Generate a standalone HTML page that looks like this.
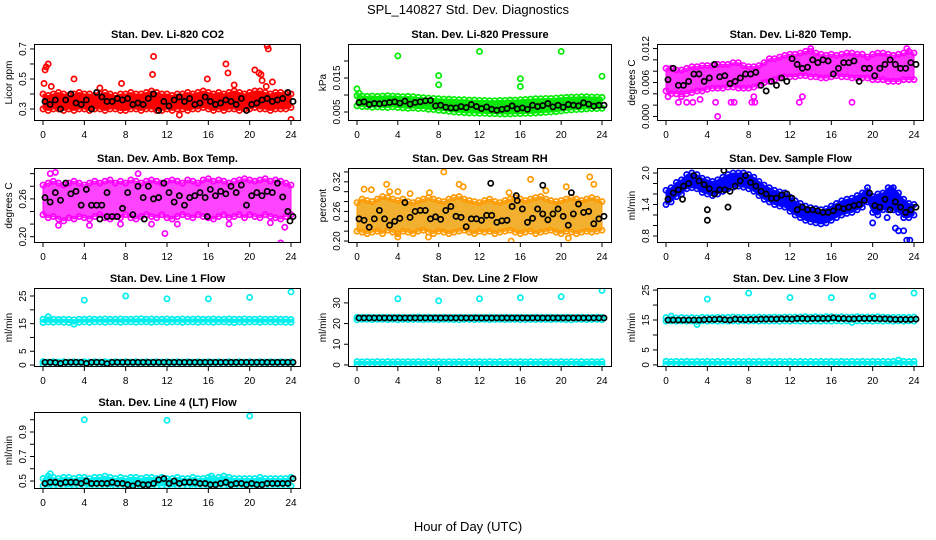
<!DOCTYPE html>
<html><head><meta charset="utf-8">
<style>
html,body{margin:0;padding:0;background:#fff;}
svg{display:block;font-family:"Liberation Sans",Arial,sans-serif;}
</style></head>
<body>
<svg id="chart" width="936" height="540" viewBox="0 0 936 540">
<rect width="936" height="540" fill="#fff"/>
<text x="468" y="14" text-anchor="middle" font-size="13">SPL_140827  Std. Dev. Diagnostics</text>
<text x="468" y="531" text-anchor="middle" font-size="13">Hour of Day (UTC)</text>
</svg>
<script>
// shared hour categories
const hours = [0,0.5,1,1.5,2,2.5,3,3.5,4,4.5,5,5.5,6,6.5,7,7.5,8,8.5,9,9.5,10,10.5,11,11.5,12,12.5,13,13.5,14,14.5,15,15.5,16,16.5,17,17.5,18,18.5,19,19.5,20,20.5,21,21.5,22,22.5,23,23.5,24];
const xTicks = [0,4,8,12,16,20,24];

// CO2
const co2Lo = [0.30,0.29,0.30,0.30,0.29,0.30,0.29,0.30,0.30,0.29,0.30,0.30,0.29,0.30,0.30,0.29,0.29,0.30,0.30,0.29,0.30,0.30,0.29,0.29,0.30,0.29,0.30,0.30,0.29,0.30,0.30,0.31,0.30,0.29,0.30,0.29,0.30,0.30,0.29,0.30,0.30,0.31,0.30,0.30,0.29,0.30,0.30,0.30,0.31];
const co2Hi = [0.40,0.39,0.40,0.41,0.40,0.39,0.40,0.41,0.40,0.40,0.39,0.40,0.41,0.40,0.39,0.40,0.40,0.41,0.40,0.40,0.41,0.42,0.41,0.40,0.40,0.39,0.40,0.40,0.41,0.40,0.41,0.42,0.41,0.40,0.41,0.40,0.41,0.42,0.41,0.40,0.41,0.42,0.42,0.41,0.40,0.41,0.41,0.40,0.40];
const co2Black = [0.35,0.33,0.36,0.30,0.36,0.40,0.34,0.33,0.36,0.30,0.41,0.38,0.35,0.35,0.37,0.36,0.37,0.33,0.34,0.33,0.37,0.40,0.29,0.35,0.32,0.36,0.38,0.35,0.37,0.33,0.34,0.38,0.35,0.33,0.34,0.36,0.35,0.33,0.37,0.29,0.33,0.34,0.36,0.37,0.35,0.36,0.37,0.41,0.35];
const co2Out = [[0.2,0.56],[0.3,0.58],[0.5,0.6],[0.1,0.47],[0.8,0.45],[3,0.5],[10.7,0.65],[10.6,0.53],[13.2,0.26],[17.7,0.6],[17.9,0.54],[15.9,0.5],[20.5,0.56],[21.7,0.72],[21.8,0.7],[21.1,0.53],[22.2,0.48],[21.6,0.45],[24,0.23],[7.6,0.47],[18.5,0.46],[5.5,0.44],[21.2,0.49],[20.9,0.54]];
const co2Ticks = [0.3,0.4,0.5,0.6,0.7];
const co2Labels = ["0.3","","0.5","","0.7"];

// Pressure
const prLo = [0.0068,0.0066,0.0066,0.0064,0.0065,0.0064,0.0063,0.0065,0.0063,0.0062,0.0061,0.0062,0.0060,0.0060,0.0058,0.0057,0.0055,0.0054,0.0052,0.0050,0.0049,0.0048,0.0047,0.0047,0.0046,0.0046,0.0045,0.0045,0.0044,0.0044,0.0044,0.0045,0.0045,0.0046,0.0046,0.0047,0.0048,0.0049,0.0050,0.0051,0.0053,0.0055,0.0056,0.0057,0.0058,0.0059,0.0060,0.0060,0.0061];
const prHi = [0.0098,0.0097,0.0096,0.0097,0.0096,0.0097,0.0098,0.0097,0.0096,0.0095,0.0096,0.0095,0.0093,0.0092,0.0091,0.0090,0.0089,0.0088,0.0088,0.0087,0.0086,0.0086,0.0085,0.0085,0.0084,0.0084,0.0083,0.0083,0.0084,0.0084,0.0085,0.0085,0.0086,0.0087,0.0088,0.0089,0.0089,0.0090,0.0090,0.0091,0.0092,0.0093,0.0094,0.0094,0.0095,0.0095,0.0094,0.0094,0.0093];
const prBlack = [0.0078,0.0080,0.0072,0.0075,0.0074,0.0076,0.0078,0.0080,0.0076,0.0082,0.0073,0.0078,0.0080,0.0083,0.0084,0.0068,0.0070,0.0064,0.0062,0.0062,0.0066,0.0063,0.0072,0.0066,0.0060,0.0065,0.0058,0.0055,0.0058,0.0060,0.0068,0.0059,0.0062,0.0058,0.0070,0.0066,0.0069,0.0075,0.0065,0.0070,0.0064,0.0072,0.0070,0.0068,0.0077,0.0073,0.0067,0.0070,0.0070];
const prOut = [[4,0.0215],[12,0.0228],[20,0.0228],[8,0.0157],[8,0.013],[16,0.0148],[16,0.0125],[24,0.0155],[0,0.0118],[0.2,0.0105]];
const prTicks = [0.005,0.010,0.015,0.020];
const prLabels = ["0.005","","0.015",""];

// Li-820 temperature
const tpLo = [0.0045,0.004,0.004,0.004,0.004,0.0042,0.0045,0.0045,0.0048,0.005,0.005,0.005,0.0052,0.0052,0.005,0.005,0.005,0.0052,0.0055,0.006,0.0062,0.0065,0.0068,0.007,0.007,0.007,0.0072,0.0072,0.007,0.007,0.0068,0.0068,0.007,0.0072,0.007,0.007,0.0068,0.0068,0.0068,0.0068,0.0065,0.0065,0.0065,0.0062,0.0062,0.0062,0.0065,0.0065,0.0065];
const tpHi = [0.0085,0.0085,0.0082,0.0082,0.0085,0.0088,0.0088,0.009,0.009,0.009,0.0092,0.0092,0.0092,0.0095,0.0095,0.009,0.0088,0.0088,0.009,0.0095,0.0102,0.0102,0.0105,0.0108,0.011,0.011,0.0112,0.0115,0.0115,0.0112,0.011,0.0108,0.011,0.0108,0.011,0.0112,0.0112,0.011,0.011,0.0105,0.011,0.0112,0.0112,0.011,0.0108,0.011,0.0112,0.0115,0.0112];
const tpBlack = [0.0065,0.0085,0.0055,0.0055,0.0062,0.0075,0.0075,0.0062,0.0068,0.0092,0.007,0.0072,0.0058,0.0062,0.0068,0.0075,0.0075,0.0078,0.0055,0.0045,0.0062,0.0055,0.0068,0.0062,0.0102,0.0092,0.0085,0.0087,0.01,0.0095,0.01,0.0098,0.0075,0.0085,0.0095,0.0095,0.0098,0.0062,0.0085,0.0085,0.0072,0.0085,0.0092,0.01,0.0092,0.0085,0.0085,0.0095,0.0092];
const tpOut = [[5,0.0],[1.2,0.0025],[2,0.0025],[2.6,0.0025],[4.8,0.0025],[6.3,0.0025],[6.6,0.0025],[8.3,0.0025],[8.6,0.0025],[12.9,0.0025],[18,0.0025],[13.2,0.0035],[0.2,0.0035],[1.5,0.0035],[3.3,0.003],[8.5,0.0035],[14,0.012],[23.3,0.012]];
const tpTicks = [0,0.002,0.004,0.006,0.008,0.010,0.012];
const tpLabels = ["0.000","","","0.006","","","0.012"];

// Amb box temperature
const abLo = [0.235,0.23,0.232,0.228,0.225,0.23,0.228,0.232,0.23,0.228,0.232,0.235,0.23,0.228,0.232,0.23,0.235,0.23,0.228,0.232,0.235,0.232,0.23,0.235,0.23,0.228,0.232,0.235,0.232,0.23,0.235,0.232,0.23,0.228,0.232,0.235,0.23,0.232,0.235,0.23,0.235,0.232,0.23,0.235,0.232,0.23,0.228,0.232,0.235];
const abHi = [0.282,0.285,0.288,0.285,0.282,0.285,0.288,0.285,0.282,0.285,0.288,0.285,0.288,0.29,0.285,0.288,0.285,0.29,0.288,0.285,0.288,0.29,0.288,0.285,0.288,0.29,0.288,0.285,0.29,0.288,0.285,0.29,0.292,0.288,0.29,0.288,0.285,0.288,0.29,0.292,0.29,0.288,0.29,0.292,0.288,0.29,0.288,0.285,0.282];
const abBlack = [0.262,0.255,0.27,0.258,0.285,0.268,0.272,0.25,0.275,0.25,0.25,0.25,0.27,0.232,0.232,0.245,0.27,0.235,0.28,0.262,0.28,0.26,0.262,0.285,0.27,0.255,0.265,0.25,0.262,0.265,0.27,0.262,0.275,0.265,0.272,0.268,0.28,0.27,0.282,0.25,0.265,0.27,0.265,0.272,0.27,0.285,0.263,0.24,0.232];
const abOut = [[0.7,0.3],[1.2,0.302],[11.8,0.205],[23,0.19],[23.4,0.215],[9.2,0.3],[1.5,0.218],[4.5,0.218],[7.5,0.22],[10.5,0.22],[13,0.22],[18,0.22],[22,0.222]];
const abBlackOut = [[15.9,0.232],[9.8,0.228],[23.9,0.225],[6.2,0.232],[5.5,0.228]];
const abTicks = [0.20,0.22,0.24,0.26,0.28,0.30];
const abLabels = ["0.20","","","0.26","",""];

// Gas stream RH
const rhLo = [0.22,0.218,0.215,0.218,0.22,0.215,0.222,0.218,0.215,0.22,0.218,0.215,0.22,0.222,0.218,0.215,0.22,0.218,0.215,0.218,0.22,0.222,0.218,0.215,0.22,0.218,0.22,0.215,0.218,0.22,0.222,0.218,0.215,0.218,0.22,0.215,0.218,0.22,0.222,0.218,0.215,0.22,0.218,0.215,0.218,0.22,0.218,0.22,0.222];
const rhHi = [0.278,0.285,0.282,0.28,0.285,0.29,0.288,0.285,0.282,0.285,0.28,0.278,0.282,0.285,0.288,0.285,0.282,0.28,0.285,0.288,0.29,0.285,0.282,0.28,0.278,0.282,0.285,0.28,0.278,0.282,0.285,0.288,0.285,0.282,0.285,0.288,0.29,0.285,0.282,0.28,0.282,0.285,0.288,0.285,0.282,0.285,0.288,0.285,0.28];
const rhBlack = [0.245,0.242,0.228,0.245,0.262,0.245,0.232,0.24,0.246,0.278,0.248,0.26,0.262,0.262,0.245,0.249,0.244,0.262,0.27,0.25,0.248,0.229,0.245,0.245,0.242,0.252,0.252,0.238,0.241,0.242,0.27,0.282,0.265,0.238,0.246,0.265,0.255,0.243,0.255,0.265,0.25,0.232,0.255,0.275,0.258,0.26,0.235,0.245,0.25];
const rhOut = [[8.5,0.34],[15.1,0.2],[22.8,0.33],[2.9,0.315],[0.7,0.305],[1.4,0.304],[10,0.315],[10.4,0.31],[17,0.325],[23.2,0.315],[3.2,0.3],[4,0.3],[5.2,0.296],[7.1,0.298],[14.9,0.298],[18.5,0.302],[20.5,0.31],[4,0.208],[7,0.208],[20.7,0.206]];
const rhBlackOut = [[13.1,0.317],[18.2,0.313],[21,0.298],[15.6,0.292]];
const rhTicks = [0.20,0.22,0.24,0.26,0.28,0.30,0.32,0.34];
const rhLabels = ["0.20","","","0.26","","","0.32",""];

// Sample flow
const sfLo = [1.4,1.45,1.55,1.6,1.7,1.72,1.7,1.63,1.6,1.57,1.6,1.65,1.7,1.73,1.75,1.73,1.7,1.65,1.57,1.5,1.45,1.4,1.37,1.35,1.27,1.2,1.15,1.1,1.07,1.05,1.03,1.05,1.1,1.15,1.2,1.23,1.25,1.3,1.35,1.45,1.25,1.2,1.3,1.3,1.3,1.25,1.15,1.15,1.2];
const sfHi = [1.67,1.72,1.82,1.87,1.97,2.0,1.97,1.9,1.87,1.84,1.87,1.92,1.97,2.0,2.0,2.0,1.97,1.92,1.84,1.77,1.72,1.67,1.64,1.62,1.54,1.47,1.42,1.37,1.34,1.32,1.3,1.32,1.37,1.42,1.47,1.5,1.52,1.57,1.62,1.72,1.55,1.6,1.62,1.72,1.72,1.62,1.5,1.42,1.4];
const sfBlack = [1.5,1.62,1.68,1.75,1.8,1.95,1.85,1.78,1.7,1.6,1.68,1.68,1.65,1.75,1.85,1.95,1.82,1.75,1.65,1.6,1.52,1.52,1.58,1.6,1.52,1.3,1.35,1.3,1.3,1.28,1.25,1.25,1.28,1.35,1.32,1.35,1.38,1.4,1.48,1.62,1.38,1.35,1.5,1.3,1.45,1.35,1.25,1.3,1.35];
const sfOut = [[20,1.05],[21.4,1.15],[22.2,0.95],[22.5,0.9],[23,0.9],[23.3,0.72],[23.6,0.72],[21.8,1.7],[22.1,1.6]];
const sfBlackOut = [[4,1.1],[4,1.3],[1.6,1.5],[6,1.35],[5.6,2.05]];
const sfTicks = [0.8,1.0,1.2,1.4,1.6,1.8,2.0];
const sfLabels = ["0.8","","","1.4","","","2.0"];

// Line 1 flow
const l1UpLo = [15.4,15.6,15.5,15.6,15.5,15.4,14.8,15.5,15.6,15.5,15.6,15.6,15.5,15.6,15.6,15.5,15.6,15.6,15.5,15.6,15.6,15.5,15.6,15.6,15.5,15.6,15.6,15.5,15.6,15.6,15.5,15.6,15.6,15.5,15.6,15.6,15.5,15.4,15.6,15.5,15.6,15.6,15.5,15.6,15.6,15.5,15.6,15.5,15.5];
const l1UpHi = [16.6,17.5,16.6,16.5,16.6,16.5,16.4,16.6,16.6,16.7,16.6,16.6,16.7,16.6,16.6,16.7,16.6,16.6,16.7,16.8,16.6,16.7,16.6,16.6,16.7,16.6,16.6,16.7,16.6,16.6,16.7,16.6,16.6,16.7,16.6,16.6,16.7,16.6,16.6,16.7,16.6,16.6,16.7,16.6,16.6,16.7,16.6,16.6,16.5];
const l1LowLo = [0.3,0.3,0.3,0.3,0.3,0.3,0.3,0.3,0.3,0.3,0.3,0.3,0.3,0.3,0.3,0.3,0.3,0.3,0.3,0.3,0.3,0.3,0.3,0.3,0.3,0.3,0.3,0.3,0.3,0.3,0.3,0.3,0.3,0.3,0.3,0.3,0.3,0.3,0.3,0.3,0.3,0.3,0.3,0.3,0.3,0.3,0.3,0.3,0.3];
const l1LowHi = [1.2,1.1,1.2,1.1,1.2,1.1,1.2,1.1,1.2,1.1,1.2,1.1,1.2,1.1,1.2,1.1,1.2,1.1,1.2,1.1,1.2,1.1,1.2,1.1,1.2,1.1,1.2,1.1,1.2,1.1,1.2,1.1,1.2,1.1,1.2,1.1,1.2,1.1,1.2,1.1,1.2,1.1,1.2,1.1,1.2,1.1,1.2,1.1,1.2];
const l1Black = [1.0,1.0,0.9,0.6,1.0,1.0,1.0,1.0,0.6,1.0,1.0,1.0,0.5,1.0,1.0,1.0,1.0,1.0,1.0,1.0,1.0,1.0,1.0,1.0,1.0,1.0,1.0,1.0,1.0,1.0,1.0,1.0,1.0,1.0,1.0,1.0,1.0,1.0,1.0,1.0,1.0,1.0,1.0,1.0,1.0,1.0,1.0,1.0,1.0];
const l1Out = [[4,23.5],[8,25],[12,24],[16,24],[20,24.5],[24,26.5]];
const l1Ticks = [0,5,10,15,20,25];
const l1Labels = ["0","5","","15","","25"];

// Line 2 flow
const l2UpLo = [21.8,22.0,22.0,21.9,22.0,22.0,21.9,22.0,21.8,22.0,21.9,22.0,22.0,21.9,22.0,22.0,21.9,22.0,22.0,21.9,21.8,22.0,22.0,21.9,22.0,22.0,21.9,22.0,22.0,21.9,22.0,22.0,21.9,22.0,22.0,21.9,22.0,22.0,21.9,22.0,22.0,21.9,21.8,22.0,22.0,21.9,22.0,22.0,21.9];
const l2UpHi = [23.0,23.0,23.1,23.0,23.0,23.1,23.0,23.0,23.1,23.0,23.0,23.1,23.2,23.0,23.1,23.0,23.0,23.1,23.0,23.0,23.1,23.0,23.0,23.1,23.0,23.0,23.1,23.0,23.0,23.1,23.0,23.0,23.1,23.0,23.0,23.1,23.0,23.0,23.1,23.0,23.0,23.1,23.0,23.0,23.1,23.0,23.0,23.1,23.0];
const l2LowLo = [0.3,0.3,0.3,0.3,0.3,0.3,0.3,0.3,0.3,0.3,0.3,0.3,0.3,0.3,0.3,0.3,0.3,0.3,0.3,0.3,0.3,0.3,0.3,0.3,0.3,0.3,0.3,0.3,0.3,0.3,0.3,0.3,0.3,0.3,0.3,0.3,0.3,0.3,0.3,0.3,0.3,0.3,0.3,0.3,-0.3,0.3,0.3,0.3,0.3];
const l2LowHi = [1.6,1.5,1.6,1.5,1.6,1.5,1.6,1.5,1.6,1.5,1.6,1.5,1.6,1.5,1.6,1.5,1.6,1.5,1.6,1.5,1.6,1.5,1.6,1.5,1.6,1.5,1.6,1.5,1.6,1.5,1.6,1.5,1.6,1.5,1.6,1.5,1.6,1.5,1.6,1.5,1.6,1.5,1.6,1.5,1.6,1.5,1.6,1.5,1.6];
const l2Black = [22.7,22.7,22.7,22.7,22.7,22.7,22.7,22.7,22.7,22.7,22.7,22.7,22.7,22.7,22.7,22.7,22.7,22.7,22.7,22.7,22.7,22.7,22.7,22.7,22.7,22.7,22.7,22.7,22.7,22.7,22.7,22.7,22.7,22.7,22.7,22.7,22.7,22.7,22.7,22.7,22.7,22.7,22.7,22.7,22.7,22.7,22.7,22.7,22.7];
const l2Out = [[4,32],[8,31],[12,32],[16,32.5],[20,33],[24,36]];
const l2Ticks = [0,10,20,30];
const l2Labels = ["0","10","20","30"];

// Line 3 flow
const l3UpLo = [14.6,14.7,14.6,14.7,14.6,14.7,13.5,14.7,14.6,14.7,14.6,14.7,14.6,14.7,14.6,14.7,14.6,14.7,14.6,14.7,14.6,14.7,14.6,14.7,14.6,14.7,14.6,14.7,14.6,14.7,14.6,14.7,14.6,14.7,14.6,14.7,14.2,14.7,14.6,14.7,14.6,14.7,14.6,14.7,14.6,14.7,14.6,14.7,14.6];
const l3UpHi = [15.8,16.3,15.7,15.8,15.7,15.8,15.7,15.9,15.8,15.8,15.9,15.8,15.9,16.0,15.9,15.9,15.9,15.9,16.0,15.9,15.9,16.0,15.9,16.0,16.0,16.0,16.0,16.1,16.0,16.1,16.0,16.1,16.1,16.0,16.1,16.0,16.0,16.1,16.0,16.0,16.0,16.1,16.0,15.9,15.9,15.9,15.9,15.9,16.0];
const l3LowLo = [0.2,0.2,0.2,0.2,0.2,0.2,0.2,0.2,0.2,0.2,0.2,0.2,0.2,0.2,0.2,0.2,0.2,0.2,0.2,0.2,0.2,0.2,0.2,0.2,0.2,0.2,0.2,0.2,0.2,0.2,0.2,0.2,0.2,0.2,0.2,0.2,0.2,0.2,0.2,0.2,0.2,0.2,0.2,-0.3,0.2,0.2,0.2,0.2,0.2];
const l3LowHi = [1.2,1.1,1.2,1.1,1.2,1.1,1.2,1.1,1.2,1.1,1.2,1.1,1.2,1.1,1.2,1.1,1.2,1.1,1.2,1.1,1.2,1.1,1.2,1.1,1.2,1.1,1.2,1.1,1.2,1.1,1.2,1.1,1.2,1.1,1.2,1.1,1.2,1.1,1.2,1.1,1.2,1.1,1.2,1.1,1.2,1.6,1.2,1.1,1.2];
const l3Black = [15.0,15.0,15.0,15.0,15.0,15.0,15.0,15.1,15.2,15.2,15.3,15.1,15.0,15.3,15.2,15.1,15.2,15.2,15.3,15.3,15.3,15.3,15.4,15.4,15.3,15.5,15.5,15.4,15.5,15.5,15.5,15.5,15.7,15.5,15.5,15.4,15.4,15.5,15.5,15.5,15.5,15.4,15.4,15.3,15.2,15.2,15.2,15.2,15.3];
const l3Out = [[4,22],[8,24],[12,22.5],[16,22.5],[20,23],[24,24]];
const l3Ticks = [0,5,10,15,20,25];
const l3Labels = ["0","5","","15","","25"];

// Line 4 (LT) flow
const l4Lo = [0.46,0.45,0.46,0.46,0.46,0.45,0.46,0.46,0.46,0.45,0.46,0.46,0.46,0.45,0.46,0.46,0.46,0.45,0.46,0.46,0.46,0.45,0.46,0.46,0.46,0.45,0.46,0.46,0.46,0.45,0.46,0.46,0.46,0.45,0.46,0.46,0.46,0.45,0.46,0.46,0.46,0.45,0.46,0.46,0.46,0.45,0.46,0.46,0.46];
const l4Hi = [0.52,0.54,0.53,0.52,0.53,0.53,0.52,0.53,0.53,0.52,0.53,0.53,0.54,0.53,0.52,0.53,0.52,0.53,0.53,0.52,0.53,0.53,0.52,0.53,0.52,0.52,0.53,0.52,0.52,0.53,0.52,0.52,0.53,0.52,0.53,0.54,0.53,0.52,0.52,0.52,0.52,0.52,0.53,0.52,0.52,0.52,0.52,0.52,0.53];
const l4Black = [0.48,0.49,0.49,0.48,0.49,0.49,0.49,0.48,0.50,0.48,0.48,0.48,0.48,0.49,0.48,0.48,0.47,0.46,0.48,0.47,0.47,0.48,0.51,0.52,0.48,0.50,0.48,0.49,0.49,0.49,0.48,0.48,0.47,0.47,0.48,0.49,0.47,0.48,0.48,0.47,0.48,0.47,0.47,0.48,0.48,0.48,0.48,0.48,0.52];
const l4Out = [[4,1.0],[12,0.995],[20,1.03],[0.7,0.56],[16.3,0.54],[17.5,0.54]];
const l4Ticks = [0.5,0.6,0.7,0.8,0.9,1.0];
const l4Labels = ["0.5","","0.7","","0.9",""];

const panels = [
 {name:'co2',title:'Stan. Dev. Li-820 CO2',ylab:'Licor ppm',col:0,row:0,ymin:0.22,ymax:0.733,color:'#ff0000',fill:'#ff0000',bands:[[co2Lo,co2Hi]],black:co2Black,out:co2Out,bout:[],ticks:co2Ticks,labels:co2Labels},
 {name:'pressure',title:'Stan. Dev. Li-820 Pressure',ylab:'kPa',col:1,row:0,ymin:0.00235,ymax:0.025,color:'#00ee00',fill:'#11dd11',bands:[[prLo,prHi]],black:prBlack,out:prOut,bout:[],ticks:prTicks,labels:prLabels},
 {name:'li820-temp',title:'Stan. Dev. Li-820 Temp.',ylab:'degrees C',col:2,row:0,ymin:-0.0008,ymax:0.0128,color:'#ff00ff',fill:'#ff33ff',bands:[[tpLo,tpHi]],black:tpBlack,out:tpOut,bout:[],ticks:tpTicks,labels:tpLabels},
 {name:'amb-box-temp',title:'Stan. Dev. Amb. Box Temp.',ylab:'degrees C',col:0,row:1,ymin:0.19,ymax:0.309,color:'#ff00ff',fill:'#ff44ff',bands:[[abLo,abHi]],black:abBlack,out:abOut,bout:abBlackOut,ticks:abTicks,labels:abLabels},
 {name:'gas-stream-rh',title:'Stan. Dev. Gas Stream RH',ylab:'percent',col:1,row:1,ymin:0.196,ymax:0.348,color:'#ff9900',fill:'#f2b030',bands:[[rhLo,rhHi]],black:rhBlack,out:rhOut,bout:rhBlackOut,ticks:rhTicks,labels:rhLabels},
 {name:'sample-flow',title:'Stan. Dev. Sample Flow',ylab:'ml/min',col:2,row:1,ymin:0.667,ymax:2.095,color:'#0000ff',fill:'#0000ff',bands:[[sfLo,sfHi]],black:sfBlack,out:sfOut,bout:sfBlackOut,ticks:sfTicks,labels:sfLabels},
 {name:'line1-flow',title:'Stan. Dev. Line 1 Flow',ylab:'ml/min',col:0,row:2,ymin:-0.7,ymax:27.9,color:'#00eeee',fill:'#00eeee',bands:[[l1UpLo,l1UpHi],[l1LowLo,l1LowHi]],black:l1Black,out:l1Out,bout:[],ticks:l1Ticks,labels:l1Labels},
 {name:'line2-flow',title:'Stan. Dev. Line 2 Flow',ylab:'ml/min',col:1,row:2,ymin:-1,ymax:37.2,color:'#00eeee',fill:'#00eeee',bands:[[l2UpLo,l2UpHi],[l2LowLo,l2LowHi]],black:l2Black,out:l2Out,bout:[],ticks:l2Ticks,labels:l2Labels},
 {name:'line3-flow',title:'Stan. Dev. Line 3 Flow',ylab:'ml/min',col:2,row:2,ymin:-0.7,ymax:25.7,color:'#00eeee',fill:'#00eeee',bands:[[l3UpLo,l3UpHi],[l3LowLo,l3LowHi]],black:l3Black,out:l3Out,bout:[],ticks:l3Ticks,labels:l3Labels},
 {name:'line4-flow',title:'Stan. Dev. Line 4 (LT) Flow',ylab:'ml/min',col:0,row:3,ymin:0.435,ymax:1.063,color:'#00eeee',fill:'#00eeee',bands:[[l4Lo,l4Hi]],black:l4Black,out:l4Out,bout:[],ticks:l4Ticks,labels:l4Labels}
];

const colsX = [[34,301],[348,612],[657,924]];
const rowsY = [[44,121],[168,243],[288,367],[412,489]];
const NS = 'http://www.w3.org/2000/svg';
const svg = document.getElementById('chart');
function mk(tag, attrs, parent){
  const e = document.createElementNS(NS, tag);
  for (const k in attrs) e.setAttribute(k, attrs[k]);
  (parent||svg).appendChild(e);
  return e;
}

panels.forEach(p => {
  const [L,R] = colsX[p.col], [T,B] = rowsY[p.row];
  const x0 = L + 9, x1 = R - 10;
  const sx = h => x0 + (h/24)*(x1-x0);
  const sy = v => B - (v - p.ymin)/(p.ymax - p.ymin)*(B-T);
  const g = mk('g', {});
  
  
  const clipId = 'clip-' + p.name;
  const cp = mk('clipPath', {id: clipId}, g);
  mk('rect', {x:L, y:T, width:R-L, height:B-T}, cp);
  const plot = mk('g', {'clip-path':'url(#'+clipId+')'}, g);
  
  

  p.bands.forEach((bd, bi) => {
    const lo = bd[0], hi = bd[1];
    let pts = [];
    hours.forEach((h,i)=>pts.push(sx(h).toFixed(1)+','+sy(hi[i]).toFixed(1)));
    for (let i=hours.length-1;i>=0;i--) pts.push(sx(hours[i]).toFixed(1)+','+sy(lo[i]).toFixed(1));
    const poly = mk('polygon', {points: pts.join(' '), fill: p.fill, stroke: p.color, 'stroke-width': 1, 'stroke-linejoin':'round'}, plot);
    
    
    hours.forEach((h,i) => {
      [lo[i], hi[i]].forEach(v => {
        const c = mk('circle', {cx: sx(h), cy: sy(v), r: 2.6, fill: 'none', stroke: p.color, 'stroke-width': 1.7}, plot);
        
        
      });
    });
  });
  p.out.forEach(o => {
    const c = mk('circle', {cx: sx(o[0]), cy: sy(o[1]), r: 2.6, fill: 'none', stroke: p.color, 'stroke-width': 1.7}, plot);
    
    
  });
  hours.forEach((h,i) => {
    const c = mk('circle', {cx: sx(h)+2, cy: sy(p.black[i]), r: 2.6, fill: 'none', stroke: '#000', 'stroke-width': 1.7}, plot);
    
    
  });
  p.bout.forEach(o => {
    const c = mk('circle', {cx: sx(o[0]), cy: sy(o[1]), r: 2.6, fill: 'none', stroke: '#000', 'stroke-width': 1.7}, plot);
    
    
  });

  const box = mk('rect', {x:L+0.5, y:T+0.5, width:R-L-1, height:B-T-1, fill:'none', stroke:'#000', 'stroke-width':1}, g);
  
  

  const t = mk('text', {x:(L+R)/2, y:T-6, 'text-anchor':'middle', 'font-size':11, 'font-weight':'bold'}, g);
  t.textContent = p.title;
  
  

  xTicks.forEach(h => {
    mk('line', {x1:sx(h), x2:sx(h), y1:B, y2:B+4, stroke:'#000'}, g);
    const tx = mk('text', {x:sx(h), y:B+17, 'text-anchor':'middle', 'font-size':10}, g);
    tx.textContent = h;
    
    
  });
  p.ticks.forEach((v,i) => {
    const yy = sy(v);
    mk('line', {x1:L-4, x2:L, y1:yy, y2:yy, stroke:'#000'}, g);
    if (p.labels[i]) {
      const ty = mk('text', {x:L-8, y:yy, 'text-anchor':'middle', 'font-size':10, transform:'rotate(-90 '+(L-8)+' '+yy+')'}, g);
      ty.textContent = p.labels[i];
      
      
    }
  });
  const yl = mk('text', {x:L-22, y:(T+B)/2, 'text-anchor':'middle', 'font-size':10, transform:'rotate(-90 '+(L-22)+' '+((T+B)/2)+')'}, g);
  yl.textContent = p.ylab;
  
  
});
</script>
</body></html>
